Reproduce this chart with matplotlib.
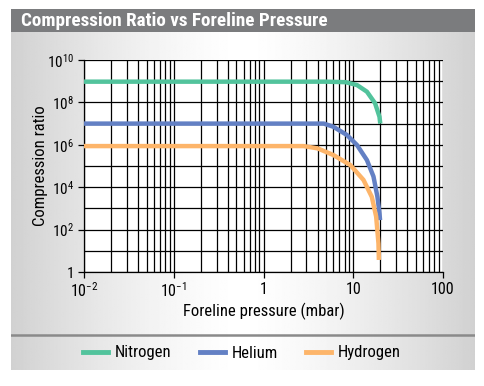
import numpy as np
import matplotlib
matplotlib.use("Agg")
import matplotlib.pyplot as plt
from matplotlib import font_manager as fm
from matplotlib.lines import Line2D
from matplotlib.ticker import FixedLocator, NullFormatter, LogLocator

# ---------------------------------------------------------------------------
# Data (pressure in mbar, compression ratio)
# ---------------------------------------------------------------------------
n2_p = [0.01, 1.0, 5.0, 8.2, 11.0, 14.2, 17.5, 19.6, 20.0]
n2_k = [9.5e8, 9.5e8, 9.5e8, 9.0e8, 6.6e8, 3.2e8, 9.1e7, 2.1e7, 1.0e7]

he_p = [0.01, 1.0, 4.7, 6.0, 8.5, 11.0, 14.2, 16.8, 18.6, 19.6, 19.9]
he_k = [1e7, 1e7, 1e7, 7.1e6, 2.9e6, 9.8e5, 1.9e5, 3.2e4, 3.5e3, 5.9e2, 2.8e2]

h2_p = [0.01, 1.0, 2.8, 4.0, 6.0, 9.3, 13.0, 16.1, 18.0, 19.1, 19.3]
h2_k = [8.7e5, 8.7e5, 8.7e5, 6.8e5, 3.3e5, 1.1e5, 2.2e4, 3.5e3, 4.1e2, 22, 3.7]

names = ["Nitrogen", "Helium", "Hydrogen"]
colors = ["#52c39c", "#6380c4", "#fdb56a"]

y_ticks = [1, 1e2, 1e4, 1e6, 1e8, 1e10]
y_grid = [1, 1e1, 1e2, 1e3, 1e4, 1e5, 1e6, 1e7, 1e8, 1e9, 1e10]
y_labels = ["1", "$10^2$", "$10^4$", "$10^6$", "$10^8$", "$10^{10}$"]
x_ticks = [1e-2, 1e-1, 1, 10, 100]
x_labels = ["$10^{-2}$", "$10^{-1}$", "1", "10", "100"]

W, H = 484, 386
installed = {f.name for f in fm.fontManager.ttflist}
FONT = "DejaVu Sans"
for cand in ["Roboto Condensed", "Archivo Narrow", "PT Sans Narrow",
             "Liberation Sans Narrow", "Open Sans Condensed", "Fira Sans Condensed"]:
    if cand in installed:
        FONT = cand
        break
plt.rcParams["font.family"] = [FONT, "DejaVu Sans"]
plt.rcParams["mathtext.fontset"] = "custom"
plt.rcParams["mathtext.rm"] = FONT
plt.rcParams["mathtext.it"] = FONT

fig = plt.figure(figsize=(W / 100, H / 100), dpi=100)
fig.patch.set_facecolor("white")


def fx(px):
    return px / W


def fy(py):
    return 1 - py / H


# panel with soft gradient
bg = fig.add_axes([fx(11), fy(370), fx(464), (370 - 32) / H])
grad = np.linspace(-1, 1, 300)
vals = 0.82 + 0.18 * (1 - np.abs(grad) ** 1.4)
bg.imshow(np.tile(vals, (20, 1)), cmap="gray", vmin=0, vmax=1,
          aspect="auto", extent=[0, 1, 0, 1], interpolation="bilinear")
bg.axhline(1 - (335 - 32) / (370 - 32), color="#8a8a8a", lw=1.8)
bg.set_xlim(0, 1)
bg.set_ylim(0, 1)
bg.axis("off")

# title bar
tb = fig.add_axes([fx(11), fy(32), fx(464), 23 / H])
tb.set_facecolor("#7b7c7e")
tb.set_xticks([])
tb.set_yticks([])
for s in tb.spines.values():
    s.set_visible(False)
tb.text(0.022, 0.5, "Compression Ratio vs Foreline Pressure", color="white",
        fontsize=13.8, fontweight="bold", va="center", ha="left",
        transform=tb.transAxes)

# main plot
ax = fig.add_axes([fx(84), fy(272), fx(443 - 84), (272 - 60) / H])
ax.set_facecolor("white")
ax.set_xscale("log")
ax.set_yscale("log")
ax.set_xlim(1e-2, 100)
ax.set_ylim(1, 1e10)

for p, k, c in [(n2_p, n2_k, colors[0]), (he_p, he_k, colors[1]),
                (h2_p, h2_k, colors[2])]:
    ax.plot(p, k, color=c, lw=3.2, solid_capstyle="butt",
            solid_joinstyle="round", zorder=3)

ax.set_yticks(y_ticks)
ax.set_yticklabels(y_labels, fontsize=11)
ax.yaxis.set_minor_locator(FixedLocator(y_grid))
ax.yaxis.set_minor_formatter(NullFormatter())
ax.set_xticks(x_ticks)
ax.set_xticklabels(x_labels, fontsize=11.5)
ax.xaxis.set_minor_locator(LogLocator(base=10, subs=np.arange(2, 10), numticks=20))
ax.xaxis.set_minor_formatter(NullFormatter())
ax.grid(True, which="both", color="black", lw=0.9)
ax.tick_params(axis="both", which="major", length=4, width=0.9, color="black", pad=3)
ax.tick_params(axis="both", which="minor", length=0)
for s in ["top", "right"]:
    ax.spines[s].set_visible(False)
for s in ["left", "bottom"]:
    ax.spines[s].set_linewidth(0.9)

ax.set_xlabel("Foreline pressure (mbar)", fontsize=12, labelpad=2)
ax.set_ylabel("Compression ratio", fontsize=12)
ax.yaxis.set_label_coords(-0.10, 0.5)

handles = [Line2D([], [], color=c, lw=3.5) for c in colors]
fig.legend(handles, names, loc="center", bbox_to_anchor=(fx(242), fy(353)),
           ncol=3, frameon=False, fontsize=12, handlelength=1.5,
           handletextpad=0.4, columnspacing=1.7)

fig.savefig("out.png", dpi=100)
